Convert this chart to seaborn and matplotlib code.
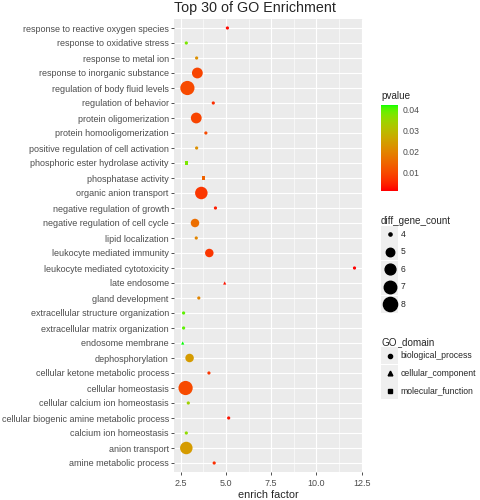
import numpy as np
import pandas as pd
import matplotlib
matplotlib.use('Agg')
import matplotlib.pyplot as plt
from matplotlib.colors import ListedColormap, Normalize
from matplotlib.cm import ScalarMappable
from matplotlib.lines import Line2D
from matplotlib.patches import Rectangle
from matplotlib.legend_handler import HandlerBase
from matplotlib.ticker import MultipleLocator
import seaborn as sns

# GO terms, listed top to bottom as they appear on the chart
terms = [
	'response to reactive oxygen species', 'response to oxidative stress', 'response to metal ion',
	'response to inorganic substance', 'regulation of body fluid levels', 'regulation of behavior',
	'protein oligomerization', 'protein homooligomerization', 'positive regulation of cell activation',
	'phosphoric ester hydrolase activity', 'phosphatase activity', 'organic anion transport',
	'negative regulation of growth', 'negative regulation of cell cycle', 'lipid localization',
	'leukocyte mediated immunity', 'leukocyte mediated cytotoxicity', 'late endosome',
	'gland development', 'extracellular structure organization', 'extracellular matrix organization',
	'endosome membrane', 'dephosphorylation', 'cellular ketone metabolic process',
	'cellular homeostasis', 'cellular calcium ion homeostasis', 'cellular biogenic amine metabolic process',
	'calcium ion homeostasis', 'anion transport', 'amine metabolic process',
]
enrich_factor = [5.08, 2.81, 3.38, 3.42, 2.87, 4.30, 3.36, 3.89, 3.38, 2.81,
				 3.78, 3.64, 4.42, 3.29, 3.36, 4.08, 12.10, 4.93, 3.50, 2.66,
				 2.66, 2.61, 2.99, 4.06, 2.77, 2.92, 5.15, 2.81, 2.81, 4.35]
pvalue = [0.002, 0.038, 0.022, 0.009, 0.010, 0.006, 0.009, 0.010, 0.022, 0.038,
		  0.014, 0.007, 0.004, 0.016, 0.020, 0.007, 0.001, 0.003, 0.020, 0.040,
		  0.040, 0.0424, 0.024, 0.007, 0.010, 0.034, 0.003, 0.036, 0.024, 0.006]
diff_gene_count = [4, 4, 4, 6, 8, 4, 6, 4, 4, 4,
				   4, 7, 4, 5, 4, 5, 4, 4, 4, 4,
				   4, 4, 5, 4, 8, 4, 4, 4, 7, 4]
BP, CC, MF = 'biological_process', 'cellular_component', 'molecular_function'
go_domain = [BP, BP, BP, BP, BP, BP, BP, BP, BP, MF,
			 MF, BP, BP, BP, BP, BP, BP, CC, BP, BP,
			 BP, CC, BP, BP, BP, BP, BP, BP, BP, BP]
domains = [BP, CC, MF]
size_levels = [4, 5, 6, 7, 8]
cbar_ticks = [0.01, 0.02, 0.03, 0.04]
x_ticks = [2.5, 5.0, 7.5, 10.0, 12.5]

df = pd.DataFrame({'term': terms, 'enrich_factor': enrich_factor, 'pvalue': pvalue,
				   'diff_gene_count': diff_gene_count, 'GO_domain': go_domain})

# red -> green gradient interpolated in CIELAB (ramp eased toward the red end)
M = np.array([[0.4124, 0.3576, 0.1805], [0.2126, 0.7152, 0.0722], [0.0193, 0.1192, 0.9505]])
white = M @ np.ones(3)

def toLab(rgb):
	c = np.asarray(rgb, float)
	c = np.where(c <= 0.04045, c / 12.92, ((c + 0.055) / 1.055) ** 2.4)
	xyz = M @ c / white
	f = np.where(xyz > (6 / 29) ** 3, np.cbrt(xyz), xyz / (3 * (6 / 29) ** 2) + 4 / 29)
	return np.array([116 * f[1] - 16, 500 * (f[0] - f[1]), 200 * (f[1] - f[2])])

def fromLab(lab):
	fy = (lab[0] + 16) / 116
	f = np.array([fy + lab[1] / 500, fy, fy - lab[2] / 200])
	xyz = np.where(f > 6 / 29, f ** 3, 3 * (6 / 29) ** 2 * (f - 4 / 29)) * white
	c = np.linalg.solve(M, xyz)
	c = np.where(c <= 0.0031308, 12.92 * c, 1.055 * np.abs(c) ** (1 / 2.4) - 0.055)
	return np.clip(c, 0, 1)

labLow, labHigh = toLab([1, 0, 0]), toLab([0, 1, 0])
cmap = ListedColormap([fromLab(labLow + (labHigh - labLow) * t ** 1.5) for t in np.linspace(0, 1, 256)])
norm = Normalize(vmin=min(pvalue), vmax=max(pvalue))

pxPt = 72 / 100
sizeDiamPx = {4: 3.2, 5: 8.5, 6: 10.8, 7: 12.5, 8: 14.2}
sizeMap = {k: (v * pxPt) ** 2 for k, v in sizeDiamPx.items()}
markerMap = {BP: 'o', CC: '^', MF: 's'}

class KeyHandler(HandlerBase):
	# ggplot-style legend key: grey box with the symbol centred in it
	def create_artists(self, legend, orig_handle, xdescent, ydescent, width, height, fontsize, trans):
		bg = Rectangle((-xdescent + 0.3, -ydescent + 0.3), width - 0.6, height - 0.6,
					   facecolor='#EFEFEF', edgecolor='none', transform=trans)
		mk = Line2D([width / 2 - xdescent], [height / 2 - ydescent], marker=orig_handle.get_marker(),
					ms=orig_handle.get_markersize(), color=orig_handle.get_color(), ls='', transform=trans)
		return [bg, mk]

sns.set_theme(style='darkgrid')
plt.rcParams['font.family'] = ['Liberation Sans', 'DejaVu Sans']
plt.rcParams.update({'axes.facecolor': '#EBEBEB', 'grid.color': 'white'})

fig = plt.figure(figsize=(4.8, 5), dpi=100)
ax = fig.add_axes([174 / 480, 28 / 500, 189 / 480, 453 / 500])
sns.scatterplot(data=df, x='enrich_factor', y='term', hue='pvalue', size='diff_gene_count',
				style='GO_domain', palette=cmap, hue_norm=norm, sizes=sizeMap,
				markers=markerMap, linewidth=0, legend=False, ax=ax, zorder=3)
ax.set_ylim(len(terms) - 0.4, -0.6)
ax.set_xlim(2.13, 12.57)
ax.set_xticks(x_ticks)
ax.set_xticklabels([f'{t:.1f}' for t in x_ticks])
ax.xaxis.set_minor_locator(MultipleLocator(1.25))
ax.grid(which='major', color='white', lw=0.8)
ax.grid(which='minor', axis='x', color='white', lw=0.4)
for s in ax.spines.values():
	s.set_visible(False)
ax.tick_params(axis='both', which='major', length=2.2, width=0.6, color='#333333',
			   labelcolor='#4D4D4D', labelsize=6.5, pad=1.5, bottom=True, left=True)
ax.tick_params(axis='x', which='minor', length=0)
ax.tick_params(axis='x', pad=2.5)
ax.set_xlabel('enrich factor', fontsize=7.8, labelpad=1.5)
ax.set_ylabel('')
ax.set_title('Top 30 of GO Enrichment', loc='left', fontsize=10.3, pad=5)

# colour bar
cax = fig.add_axes([381 / 480, 309 / 500, 17 / 480, 86 / 500])
cbar = fig.colorbar(ScalarMappable(norm=norm, cmap=cmap), cax=cax, ticks=cbar_ticks)
cbar.outline.set_visible(False)
cax.minorticks_off()
cax.tick_params(axis='y', direction='in', color='white', length=3.5, width=0.8, left=True, right=True,
				labelcolor='#4D4D4D', labelsize=6.2, pad=3.5)
cax.set_yticklabels([f'{t:.2f}' for t in cbar_ticks])
cax.set_title('pvalue', loc='left', fontsize=7.1, pad=4)

legKw = dict(loc='upper left', frameon=False, alignment='left', borderpad=0, borderaxespad=0,
			 labelspacing=0, handletextpad=0.25, handlelength=2.0, handleheight=2.75,
			 fontsize=6.2, title_fontsize=7.1, handler_map={Line2D: KeyHandler()})

sizeHandles = [Line2D([], [], marker='o', ms=sizeDiamPx[v] * pxPt, color='black', ls='')
			   for v in size_levels]
fig.legend(sizeHandles, [str(v) for v in size_levels], title='diff_gene_count',
		   bbox_to_anchor=(381 / 480, 1 - 215.5 / 500), **legKw)

shapeMs = {BP: 3.0, CC: 3.4, MF: 3.0}
shapeHandles = [Line2D([], [], marker=markerMap[d], ms=shapeMs[d], color='black', ls='')
				for d in domains]
fig.legend(shapeHandles, domains, title='GO_domain',
		   bbox_to_anchor=(381 / 480, 1 - 337 / 500), **legKw)

fig.savefig('out.png', dpi=100)
